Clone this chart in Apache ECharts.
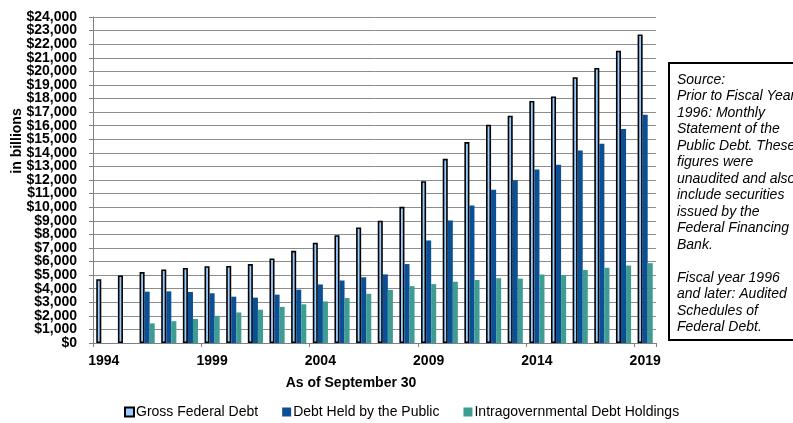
<!DOCTYPE html>
<html>
<head>
<meta charset="utf-8">
<script src="https://cdn.jsdelivr.net/npm/echarts@6/dist/echarts.min.js"></script>
<style>
html,body{margin:0;padding:0;background:#fff;}
#chart{width:793px;height:423px;}
</style>
</head>
<body>
<div id="chart"></div>
<script>
const categories = ['1994','1995','1996','1997','1998','1999','2000','2001','2002','2003','2004','2005','2006','2007','2008','2009','2010','2011','2012','2013','2014','2015','2016','2017','2018','2019'];
const grossDebt = [4692.7,4973.9,5224.8,5413.1,5526.2,5656.3,5674.2,5807.5,6228.2,6783.2,7379.1,7932.7,8507.0,9007.7,10024.7,11909.8,13561.6,14790.3,16066.2,16738.2,17824.1,18150.6,19573.4,20244.9,21516.1,22719.4];
const publicDebt = [null,null,3780,3800,3755,3660,3410,3340,3560,3930,4310,4600,4840,5050,5810,7550,9020,10130,11280,11980,12780,13120,14170,14670,15760,16810];
const intragovDebt = [null,null,1445,1605,1765,2000,2250,2450,2660,2850,3060,3315,3620,3915,4185,4335,4510,4640,4770,4740,5040,5005,5370,5540,5700,5880];
const yTickLabels = ['$0','$1,000','$2,000','$3,000','$4,000','$5,000','$6,000','$7,000','$8,000','$9,000','$10,000','$11,000','$12,000','$13,000','$14,000','$15,000','$16,000','$17,000','$18,000','$19,000','$20,000','$21,000','$22,000','$23,000','$24,000'];
const seriesNames = ['Gross Federal Debt','Debt Held by the Public','Intragovernmental Debt Holdings'];
const yAxisTitle = 'in billions';
const xAxisTitle = 'As of September 30';
const sourceText = ['Source:','Prior to Fiscal Year','1996: Monthly','Statement of the','Public Debt. These','figures were','unaudited and also','include securities','issued by the','Federal Financing','Bank.','','Fiscal year 1996','and later: Audited','Schedules of','Federal Debt.'];

const FONT = '"Liberation Sans", Arial, sans-serif';
const chart = echarts.init(document.getElementById('chart'), null, {renderer:'canvas'});
chart.setOption({
  animation:false,
  backgroundColor:'#fff',
  grid:{left:93,right:137,top:17,bottom:80,containLabel:false},
  legend:{
    left:119, top:400,
    itemWidth:9, itemHeight:9, itemGap:24,
    icon:'rect',
    textStyle:{fontFamily:FONT,fontSize:14,color:'#000',padding:[0,0,0,-3]},
    data:seriesNames
  },
  xAxis:{
    type:'category', data:categories, boundaryGap:true,
    axisLine:{show:true,lineStyle:{color:'#808080',width:1}},
    axisTick:{show:true,interval:4,length:4,lineStyle:{color:'#808080'}},
    axisLabel:{interval:4,margin:11,fontFamily:FONT,fontSize:14,fontWeight:'bold',color:'#000'},
    splitLine:{show:false}
  },
  yAxis:[{
    type:'value', min:0, max:24000, interval:1000,
    axisLine:{show:true,lineStyle:{color:'#808080',width:1}},
    axisTick:{show:true,length:4,lineStyle:{color:'#808080'}},
    axisLabel:{show:false},
    splitLine:{show:true,lineStyle:{color:'#8c8c8c',width:1}}
  },{
    type:'category', data:yTickLabels, boundaryGap:false, position:'left',
    axisLine:{show:false}, axisTick:{show:false}, splitLine:{show:false},
    axisLabel:{interval:0,margin:16,fontFamily:FONT,fontSize:14,fontWeight:'bold',color:'#000'}
  }],
  series:[
    {name:seriesNames[0],type:'bar',data:grossDebt,barGap:'0%',barCategoryGap:'30%',
      itemStyle:{color:'#99CCFF',borderColor:'#000',borderWidth:1.6}},
    {name:seriesNames[1],type:'bar',data:publicDebt,barGap:'0%',barCategoryGap:'30%',
      itemStyle:{color:'#0B4F94'}},
    {name:seriesNames[2],type:'bar',data:intragovDebt,barGap:'0%',barCategoryGap:'30%',
      itemStyle:{color:'#3F9C93'}}
  ],
  graphic:[
    {type:'text',x:17,y:141,rotation:Math.PI/2,
      style:{text:yAxisTitle,font:'bold 14px '+FONT,fill:'#000',align:'center',verticalAlign:'middle'}},
    {type:'text',x:351,y:383,
      style:{text:xAxisTitle,font:'bold 14px '+FONT,fill:'#000',align:'center',verticalAlign:'middle'}},
    {type:'rect',shape:{x:669,y:63,width:150,height:277},
      style:{fill:'#fff',stroke:'#000',lineWidth:2}},
    {type:'text',x:677,y:71.75,
      style:{text:sourceText.join('\n'),font:'italic 14px '+FONT,lineHeight:16.5,fill:'#000',align:'left',verticalAlign:'top'}}
  ]
});
</script>
</body>
</html>
